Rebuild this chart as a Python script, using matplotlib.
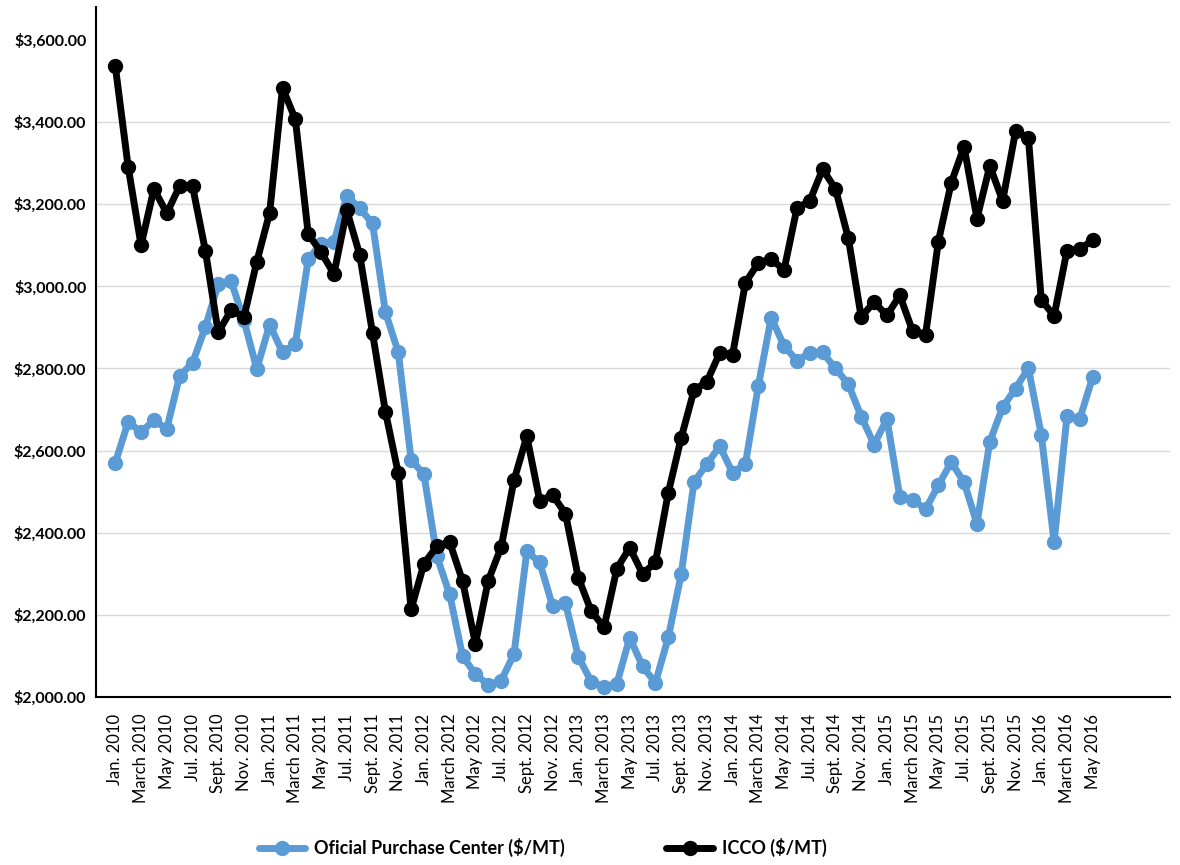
import matplotlib
matplotlib.use("Agg")
import matplotlib.pyplot as plt
import numpy as np
from matplotlib.ticker import FuncFormatter

# monthly, Jan 2010 .. May 2016
years = [2010, 2011, 2012, 2013, 2014, 2015, 2016]
month_names = ["Jan.", "March", "May", "Jul.", "Sept.", "Nov."]

icco = [3535, 3290, 3100, 3237, 3178, 3244, 3244, 3087, 2888, 2942, 2925, 3060,
        3179, 3483, 3406, 3127, 3083, 3030, 3185, 3077, 2886, 2695, 2545, 2214,
        2325, 2367, 2377, 2283, 2130, 2284, 2365, 2528, 2635, 2478, 2492, 2447,
        2291, 2210, 2170, 2313, 2364, 2300, 2328, 2498, 2631, 2747, 2768, 2838,
        2834, 3009, 3057, 3066, 3040, 3190, 3208, 3285, 3237, 3117, 2925, 2962,
        2929, 2978, 2891, 2881, 3109, 3252, 3340, 3165, 3293, 3208, 3377, 3362,
        2967, 2928, 3087, 3090, 3113]

oficial = [2571, 2670, 2645, 2674, 2653, 2782, 2813, 2901, 3005, 3013, 2917, 2799,
           2907, 2839, 2860, 3066, 3104, 3108, 3220, 3190, 3153, 2937, 2840, 2578,
           2542, 2343, 2250, 2100, 2056, 2030, 2040, 2105, 2355, 2328, 2222, 2230,
           2099, 2038, 2025, 2033, 2145, 2075, 2035, 2146, 2299, 2524, 2567, 2611,
           2546, 2568, 2758, 2924, 2855, 2819, 2838, 2839, 2800, 2762, 2683, 2615,
           2677, 2488, 2481, 2457, 2516, 2572, 2523, 2422, 2622, 2706, 2751, 2801,
           2639, 2378, 2684, 2678, 2779]

tick_labels = []
for y in years:
    for m in month_names:
        tick_labels.append(f"{m} {y}")
tick_labels = tick_labels[:39]

plt.rcParams['font.family'] = ['Lato', 'DejaVu Sans']

fig = plt.figure(figsize=(11.8, 8.65), dpi=100)
ax = fig.add_axes([0.0814, 0.194, 0.91, 0.798])

x = np.arange(len(icco))
blue = '#5b9bd5'
ax.plot(x, oficial, color=blue, lw=5, marker='o', ms=10,
        label='Oficial Purchase Center ($/MT)', solid_capstyle='round')
ax.plot(x, icco, color='black', lw=5, marker='o', ms=10,
        label='ICCO ($/MT)', solid_capstyle='round')

ax.set_xlim(-1.5, 82)
ax.set_ylim(2000, 3680)
ax.set_yticks(np.arange(2000, 3601, 200))
ax.yaxis.set_major_formatter(FuncFormatter(lambda v, p: f"${v:,.2f}"))
for t in ax.get_yticklabels():
    t.set_fontweight('bold')
    t.set_fontsize(11.5)

ax.set_xticks(np.arange(0, len(icco), 2))
ax.set_xticklabels(tick_labels, rotation=90, fontsize=12, va='top', ha='center')
ax.tick_params(axis='both', length=0)
ax.tick_params(axis='x', pad=12)
ax.tick_params(axis='y', pad=7)

for v in range(2200, 3401, 200):
    ax.axhline(v, color='#d9d9d9', lw=1, zorder=0)

for s in ['top', 'right']:
    ax.spines[s].set_visible(False)
ax.spines['left'].set_linewidth(1.5)
ax.spines['bottom'].set_linewidth(1.5)

leg = fig.legend(loc='center', bbox_to_anchor=(0.46, 0.02), ncol=2, frameon=False,
                 handlelength=2.6, handletextpad=0.5, columnspacing=5.6,
                 prop={'weight': 'bold', 'size': 13})

fig.savefig('out.png', dpi=100)
